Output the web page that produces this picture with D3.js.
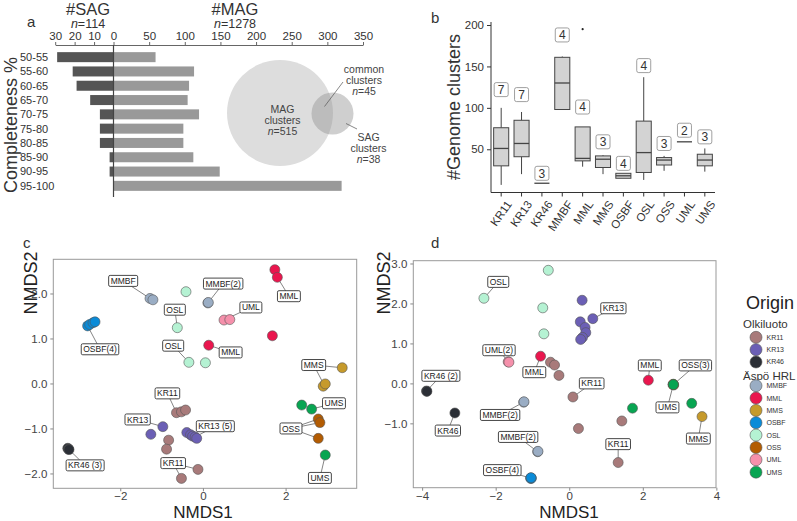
<!DOCTYPE html>
<html>
<head>
<meta charset="utf-8">
<script src="https://cdn.jsdelivr.net/npm/d3@7"></script>
<style>
  html, body { margin: 0; padding: 0; background: #fff; }
  svg { display: block; }
</style>
</head>
<body>
<script>
// ---------------- DATA ----------------
// Panel a
const completenessBins = ["50-55","55-60","60-65","65-70","70-75","75-80","80-85","85-90","90-95","95-100"];
const sagCounts = [29, 21, 19, 12, 7, 7, 7, 2, 2, 0];
const magCounts = [59, 113, 106, 104, 120, 98, 98, 112, 149, 320];
const sagTicks = [30, 20, 10, 0];
const magTicks = [50, 100, 150, 200, 250, 300, 350];
const sagTotal = 114, magTotal = 1278;
const magClusters = 515, sagClusters = 38, commonClusters = 45;

// Panel b
const boxCategories = ["KR11","KR13","KR46","MMBF","MML","MMS","OSBF","OSL","OSS","UML","UMS"];
const boxLower  = [7, 20, 9, 98, 29, 20, 15, 13, 24, 59, 23];
const boxQ1     = [30, 41, 9, 98, 36, 28, 15, 22, 31, 59, 30];
const boxMedian = [51, 57, 9, 130, 39, 38, 18, 46, 37, 59, 37];
const boxQ3     = [76, 85, 9, 161, 77, 42, 21, 84, 40, 59, 44];
const boxUpper  = [100, 95, 9, 162, 77, 43, 21, 137, 42, 59, 51];
const boxN      = [7, 7, 3, 4, 4, 3, 4, 4, 3, 2, 3];
const boxNLabelY = [122, 116, 21, 188, 101, 59, 33, 151, 57, 73, 65];
const outlierCat = ["MML"];
const outlierVal = [195];
const bTicks = [50, 100, 150, 200];

// Legend / origins
const originGroups = ["KR11","KR13","KR46","MMBF","MML","MMS","OSBF","OSL","OSS","UML","UMS"];
const originSite   = ["Olkiluoto","Olkiluoto","Olkiluoto","Äspö HRL","Äspö HRL","Äspö HRL","Äspö HRL","Äspö HRL","Äspö HRL","Äspö HRL","Äspö HRL"];
const originColors = ["#a87a7a","#6b5fb5","#2b2f36","#9aadc4","#ea164e","#c69a2b","#0a8bd8","#b5f2d3","#b35c02","#f590ab","#08a552"];

// Panel c (NMDS, ordination 1)
const cGroup = ["MMBF","MMBF","OSL","OSL","OSL","OSL","OSBF","OSBF","OSBF","OSBF","KR46","KR46","KR46",
  "KR11","KR11","KR11","KR11","KR11","KR11","KR11","KR13","KR13","KR13","KR13","KR13","KR13","KR13",
  "MML","MML","MML","MML","MMBF","MMBF","UML","UML","MMS","MMS","MMS","OSS","OSS","OSS","UMS","UMS","UMS"];
const cX = [-1.28,-1.21,-0.41,-0.62,-0.34,0.06,-2.79,-2.74,-2.66,-2.61,-3.27,-3.25,-3.24,
  -0.64,-0.52,-0.42,-0.83,-0.88,-0.52,-0.12,-0.97,-1.26,-0.39,-0.30,-0.25,-0.19,-0.15,
  1.74,1.80,1.68,0.14,0.12,0.13,0.51,0.65,3.37,2.91,2.96,2.79,2.83,2.79,2.39,2.63,2.96];
const cY = [1.89,1.86,2.04,1.24,0.47,0.46,1.28,1.31,1.35,1.37,-1.44,-1.46,-1.47,
  -0.65,-0.63,-0.59,-1.26,-1.46,-2.11,-1.91,-0.96,-1.13,-1.09,-1.14,-1.17,-1.19,-1.22,
  2.53,2.36,1.06,0.85,1.79,1.80,1.41,1.42,0.35,-0.06,-0.01,-0.79,-0.87,-1.22,-0.48,-0.57,-1.59];
const cLabels = ["MMBF","OSL","OSL","OSBF(4)","KR11","KR13","KR46 (3)","KR11","KR13 (5)","MMBF(2)","UML","MML","MML","MMS","UMS","OSS","UMS"];
const cLabelX = [-1.93,-0.68,-0.72,-2.49,-0.86,-1.58,-2.85,-0.72,0.30,0.49,1.16,2.08,0.67,2.68,3.17,2.13,2.83];
const cLabelY = [2.28,1.64,0.84,0.76,-0.22,-0.80,-1.82,-1.77,-0.95,2.22,1.69,1.94,0.69,0.41,-0.44,-1.00,-2.10];
const cSegLabel = [0,1,2,3,4,5,6,7,7,8,9,10,11,12,13,13,14,15,15,15,16];
const cSegX = [-1.28,-0.62,-0.34,-2.79,-0.64,-0.97,-3.24,-0.12,-0.52,-0.19,0.12,0.51,1.80,0.14,3.37,2.93,2.63,2.79,2.83,2.79,2.96];
const cSegY = [1.89,1.24,0.47,1.28,-0.65,-0.96,-1.47,-1.91,-2.11,-1.19,1.79,1.41,2.36,0.85,0.35,-0.03,-0.57,-0.79,-0.87,-1.22,-1.59];

// Panel d (NMDS, ordination 2)
const dGroup = ["OSL","OSL","OSL","OSL","UML","UML","KR46","KR46","KR46","MMBF","MMBF","MMBF","MMBF",
  "OSBF","OSBF","OSBF","OSBF","MML","MML","KR11","KR11","KR11","KR11","KR11","KR11","KR11",
  "KR13","KR13","KR13","KR13","KR13","KR13","KR13","OSS","OSS","OSS","UMS","UMS","UMS","MMS"];
const dX = [-2.32,-0.57,-0.72,-0.69,-1.66,-1.64,-3.88,-3.87,-3.11,-1.24,-1.23,-0.86,-0.85,
  -1.05,-1.04,-1.03,-1.04,-0.78,2.15,-0.51,-0.40,-0.28,0.10,0.25,1.43,1.33,
  0.35,0.64,0.30,0.43,0.45,0.36,0.31,2.82,2.83,2.84,2.83,1.72,3.33,3.61];
const dY = [2.13,2.83,1.89,1.24,0.54,0.53,-0.19,-0.20,-0.74,-0.47,-0.46,-1.71,-1.70,
  -2.37,-2.38,-2.37,-2.36,0.68,0.08,0.53,0.46,0.20,-0.34,-1.13,-0.94,-1.98,
  2.08,1.62,1.54,1.40,1.27,1.15,1.10,-0.03,-0.02,-0.04,-0.03,-0.62,-0.50,-0.83];
const dLabels = ["OSL","UML(2)","KR46 (2)","KR46","MML","MMBF(2)","MMBF(2)","OSBF(4)","KR13","KR11","MML","OSS(3)","UMS","MMS","KR11"];
const dLabelX = [-1.93,-1.91,-3.49,-3.30,-0.95,-1.88,-1.39,-1.82,1.20,0.61,2.19,3.43,2.67,3.51,1.33];
const dLabelY = [2.54,0.83,0.19,-1.18,0.28,-0.79,-1.34,-2.17,1.88,0.00,0.45,0.45,-0.60,-1.38,-1.52];
const dSegLabel = [0,1,2,3,4,5,6,7,8,9,10,11,12,13,14];
const dSegX = [-2.32,-1.66,-3.88,-3.11,-0.78,-1.24,-0.86,-1.04,0.64,0.10,2.15,2.83,2.83,3.61,1.33];
const dSegY = [2.13,0.54,-0.19,-0.74,0.68,-0.47,-1.71,-2.37,1.62,-0.34,0.08,-0.03,-0.03,-0.83,-1.98];

// ---------------- DRAW ----------------
const W = 797, H = 521;
const FONT = "'Liberation Sans', Arial, Helvetica, sans-serif";
const svg = d3.select("body").append("svg")
  .attr("width", W).attr("height", H)
  .style("font-family", FONT);

const colorOf = d3.scaleOrdinal().domain(originGroups).range(originColors);

// ===== Panel a =====
const A = svg.append("g");
const aY = d3.scaleBand().domain(completenessBins).range([50, 193]).paddingInner(0.3).paddingOuter(0.15);
const xSag = d3.scaleLinear().domain([0, 30]).range([113.5, 55.2]);
const xMag = d3.scaleLinear().domain([0, 350]).range([113.5, 363]);

A.selectAll("rect.sag").data(completenessBins).join("rect")
  .attr("class", "sag")
  .attr("x", (d, i) => xSag(sagCounts[i]))
  .attr("y", d => aY(d))
  .attr("width", (d, i) => xSag(0) - xSag(sagCounts[i]))
  .attr("height", aY.bandwidth())
  .attr("fill", "#555555");
A.selectAll("rect.mag").data(completenessBins).join("rect")
  .attr("class", "mag")
  .attr("x", xMag(0))
  .attr("y", d => aY(d))
  .attr("width", (d, i) => xMag(magCounts[i]) - xMag(0))
  .attr("height", aY.bandwidth())
  .attr("fill", "#999999");

const axSag = A.append("g").attr("transform", "translate(0,45)")
  .call(d3.axisTop(xSag).tickValues(sagTicks).tickSize(3).tickSizeOuter(0).tickPadding(2));
const axMag = A.append("g").attr("transform", "translate(0,45)")
  .call(d3.axisTop(xMag).tickValues(magTicks).tickSize(3).tickSizeOuter(0).tickPadding(2));
[axSag, axMag].forEach(g => {
  g.selectAll("path, line").attr("stroke", "#666");
  g.selectAll("text").attr("fill", "#333").style("font-size", "11.5px").style("font-family", FONT);
});

A.append("line").attr("x1", xMag(0)).attr("x2", xMag(0)).attr("y1", 45).attr("y2", 197)
  .attr("stroke", "#444").attr("stroke-width", 1.2);

A.selectAll("text.bin").data(completenessBins).join("text")
  .attr("class", "bin")
  .attr("x", 20).attr("y", d => aY(d) + aY.bandwidth() / 2)
  .attr("dy", "0.35em").attr("fill", "#333").style("font-size", "11px")
  .text(d => d);

A.append("text").attr("transform", "translate(17,125) rotate(-90)")
  .attr("text-anchor", "middle").style("font-size", "18px").attr("fill", "#333")
  .text("Completeness %");

A.append("text").attr("x", 27).attr("y", 27).style("font-size", "15px").attr("fill", "#333").text("a");
A.append("text").attr("x", 88).attr("y", 14.5).attr("text-anchor", "middle").style("font-size", "16.5px").attr("fill", "#333").text("#SAG");
const nS = A.append("text").attr("x", 88).attr("y", 27.5).attr("text-anchor", "middle").style("font-size", "12.5px").attr("fill", "#333");
nS.append("tspan").style("font-style", "italic").text("n");
nS.append("tspan").text("=" + sagTotal);
A.append("text").attr("x", 235).attr("y", 14.5).attr("text-anchor", "middle").style("font-size", "16.5px").attr("fill", "#333").text("#MAG");
const nM = A.append("text").attr("x", 235).attr("y", 27.5).attr("text-anchor", "middle").style("font-size", "12.5px").attr("fill", "#333");
nM.append("tspan").style("font-style", "italic").text("n");
nM.append("tspan").text("=" + magTotal);

// Venn
A.append("circle").attr("cx", 280).attr("cy", 113).attr("r", 53).attr("fill", "#dddddd");
A.append("circle").attr("cx", 332.5).attr("cy", 113.5).attr("r", 21).attr("fill", "#959595").attr("fill-opacity", 0.45);
function vennText(x, y, lines, nval) {
  const t = A.append("text").attr("text-anchor", "middle").style("font-size", "10.5px").attr("fill", "#444");
  lines.forEach((l, i) => t.append("tspan").attr("x", x).attr("y", y + i * 11).text(l));
  const last = t.append("tspan").attr("x", x).attr("y", y + lines.length * 11);
  last.append("tspan").style("font-style", "italic").text("n");
  last.append("tspan").text("=" + nval);
}
vennText(282.5, 113, ["MAG", "clusters"], magClusters);
vennText(364, 73, ["common", "clusters"], commonClusters);
vennText(368.5, 141, ["SAG", "clusters"], sagClusters);
A.append("line").attr("x1", 343).attr("y1", 82).attr("x2", 324.5).attr("y2", 106.5).attr("stroke", "#555").attr("stroke-width", 0.7);
A.append("line").attr("x1", 346).attr("y1", 123.5).attr("x2", 357).attr("y2", 129).attr("stroke", "#555").attr("stroke-width", 0.7);

// ===== Panel b =====
const B = svg.append("g");
const bx = d3.scaleBand().domain(boxCategories).range([491, 715]).paddingInner(0.26).paddingOuter(0.13);
const by = d3.scaleLinear().domain([0, 200]).range([190.7, 25]);
const bw = bx.bandwidth();
const bc = c => bx(c) + bw / 2;

const byAxis = B.append("g").attr("transform", "translate(491,0)")
  .call(d3.axisLeft(by).tickValues(bTicks).tickSize(4).tickSizeOuter(0).tickPadding(3));
byAxis.select(".domain").attr("d", "M0,22V192.5");
const bxAxis = B.append("g").attr("transform", "translate(0,192.5)")
  .call(d3.axisBottom(bx).tickSize(4).tickSizeOuter(0).tickPadding(2));
bxAxis.select(".domain").attr("d", "M491,0H715");
[byAxis, bxAxis].forEach(g => {
  g.selectAll("path, line").attr("stroke", "#333");
  g.selectAll("text").attr("fill", "#333").style("font-size", "11.5px").style("font-family", FONT);
});
bxAxis.selectAll("text")
  .attr("text-anchor", "end").attr("dy", "0.35em")
  .attr("transform", "translate(3,6) rotate(-55)");

boxCategories.forEach((c, i) => {
  const cx = bc(c);
  B.append("line").attr("x1", cx).attr("x2", cx).attr("y1", by(boxUpper[i])).attr("y2", by(boxQ3[i])).attr("stroke", "#444");
  B.append("line").attr("x1", cx).attr("x2", cx).attr("y1", by(boxQ1[i])).attr("y2", by(boxLower[i])).attr("stroke", "#444");
  B.append("rect").attr("x", bx(c)).attr("width", bw)
    .attr("y", by(boxQ3[i])).attr("height", Math.max(0, by(boxQ1[i]) - by(boxQ3[i])))
    .attr("fill", "#d3d3d3").attr("stroke", "#444").attr("stroke-width", 1);
  B.append("line").attr("x1", bx(c)).attr("x2", bx(c) + bw).attr("y1", by(boxMedian[i])).attr("y2", by(boxMedian[i]))
    .attr("stroke", "#444").attr("stroke-width", 1.3);
  // n labels
  const ly = by(boxNLabelY[i]);
  B.append("rect").attr("x", cx - 7).attr("y", ly - 7).attr("width", 14).attr("height", 14).attr("rx", 2)
    .attr("fill", "#fff").attr("stroke", "#888").attr("stroke-width", 0.8);
  B.append("text").attr("x", cx).attr("y", ly).attr("dy", "0.36em").attr("text-anchor", "middle")
    .style("font-size", "12px").attr("fill", "#333").text(boxN[i]);
});
outlierCat.forEach((c, i) => {
  B.append("circle").attr("cx", bc(c)).attr("cy", by(outlierVal[i])).attr("r", 1.1).attr("fill", "#222");
});
B.append("text").attr("transform", "translate(460,107) rotate(-90)").attr("text-anchor", "middle")
  .style("font-size", "18px").attr("fill", "#333").text("#Genome clusters");
B.append("text").attr("x", 431).attr("y", 23).style("font-size", "15px").attr("fill", "#333").text("b");

// ===== Scatter panels =====
function scatter(opts) {
  const G = svg.append("g");
  const x = d3.scaleLinear().domain(opts.xDomain).range(opts.xRange);
  const y = d3.scaleLinear().domain(opts.yDomain).range(opts.yRange);
  G.append("rect").attr("x", opts.xRange[0]).attr("y", opts.yRange[1])
    .attr("width", opts.xRange[1] - opts.xRange[0]).attr("height", opts.yRange[0] - opts.yRange[1])
    .attr("fill", "none").attr("stroke", "#999").attr("stroke-width", 1);
  const gx = G.append("g").attr("transform", `translate(0,${opts.yRange[0]})`)
    .call(d3.axisBottom(x).tickValues(opts.xTicks).tickSize(3).tickPadding(1));
  const gy = G.append("g").attr("transform", `translate(${opts.xRange[0]},0)`)
    .call(d3.axisLeft(y).tickValues(opts.yTicks).tickSize(3).tickPadding(3));
  [gx, gy].forEach(g => {
    g.select(".domain").remove();
    g.selectAll("line").attr("stroke", "#888");
    g.selectAll("text").attr("fill", "#444").style("font-size", "11.5px").style("font-family", FONT);
  });
  // segments
  opts.segLabel.forEach((li, k) => {
    G.append("line")
      .attr("x1", x(opts.labelX[li])).attr("y1", y(opts.labelY[li]))
      .attr("x2", x(opts.segX[k])).attr("y2", y(opts.segY[k]))
      .attr("stroke", "#666").attr("stroke-width", 0.8);
  });
  // points
  opts.group.forEach((g, i) => {
    G.append("circle").attr("cx", x(opts.px[i])).attr("cy", y(opts.py[i])).attr("r", 5)
      .attr("fill", colorOf(g)).attr("stroke", "#555").attr("stroke-width", 0.6);
  });
  // labels
  opts.labels.forEach((t, i) => {
    const lx = x(opts.labelX[i]), ly = y(opts.labelY[i]);
    const txt = G.append("text").attr("x", lx).attr("y", ly).attr("dy", "0.36em")
      .attr("text-anchor", "middle").style("font-size", "8.5px").attr("fill", "#222").text(t);
    const w = txt.node().getComputedTextLength() + 4;
    G.insert("rect", function() { return txt.node(); })
      .attr("x", lx - w / 2).attr("y", ly - 5.5).attr("width", w).attr("height", 11).attr("rx", 1.5)
      .attr("fill", "#fff").attr("stroke", "#333").attr("stroke-width", 0.9);
  });
  G.append("text").attr("x", opts.xTitle[0]).attr("y", opts.xTitle[1]).attr("text-anchor", "middle")
    .style("font-size", "17px").attr("fill", "#222").text("NMDS1");
  G.append("text").attr("transform", `translate(${opts.yTitle[0]},${opts.yTitle[1]}) rotate(-90)`).attr("text-anchor", "middle")
    .style("font-size", "18px").attr("fill", "#222").text("NMDS2");
  G.append("text").attr("x", opts.letter[0]).attr("y", opts.letter[1]).style("font-size", "15px").attr("fill", "#333").text(opts.letter[2]);
}

scatter({
  xDomain: [-3.62, 3.72], xRange: [53.3, 356.7],
  yDomain: [-2.33, 2.76], yRange: [488.3, 259.3],
  xTicks: [-2, 0, 2], yTicks: [-2, -1, 0, 1, 2],
  group: cGroup, px: cX, py: cY,
  labels: cLabels, labelX: cLabelX, labelY: cLabelY,
  segLabel: cSegLabel, segX: cSegX, segY: cSegY,
  xTitle: [203, 517.5], yTitle: [37, 283], letter: [23, 248, "c"]
});
scatter({
  xDomain: [-4.24, 3.99], xRange: [413.3, 716],
  yDomain: [-2.61, 3.07], yRange: [487.7, 260.7],
  xTicks: [-4, -2, 0, 2, 4], yTicks: [-1, 0, 1, 2, 3],
  group: dGroup, px: dX, py: dY,
  labels: dLabels, labelX: dLabelX, labelY: dLabelY,
  segLabel: dSegLabel, segX: dSegX, segY: dSegY,
  xTitle: [569, 517.5], yTitle: [390, 283], letter: [431, 248, "d"]
});

// ===== Legend =====
const L = svg.append("g");
L.append("text").attr("x", 770).attr("y", 309).attr("text-anchor", "middle").style("font-size", "18px").attr("fill", "#222").text("Origin");
const sites = Array.from(new Set(originSite));
const siteY = { "Olkiluoto": 328, "Äspö HRL": 379.5 };
const siteFirstItem = { "Olkiluoto": 337.3, "Äspö HRL": 385.7 };
sites.forEach(s => {
  L.append("text").attr("x", 743).attr("y", siteY[s]).style("font-size", "11.5px").attr("fill", "#333").text(s);
  const items = originGroups.filter((g, i) => originSite[i] === s);
  items.forEach((g, k) => {
    const yy = siteFirstItem[s] + k * 12.35;
    L.append("circle").attr("cx", 756).attr("cy", yy).attr("r", 6)
      .attr("fill", colorOf(g)).attr("stroke", "#555").attr("stroke-width", 0.6);
    L.append("text").attr("x", 766.5).attr("y", yy).attr("dy", "0.35em").style("font-size", "7px").attr("fill", "#333").text(g);
  });
});
</script>
</body>
</html>
